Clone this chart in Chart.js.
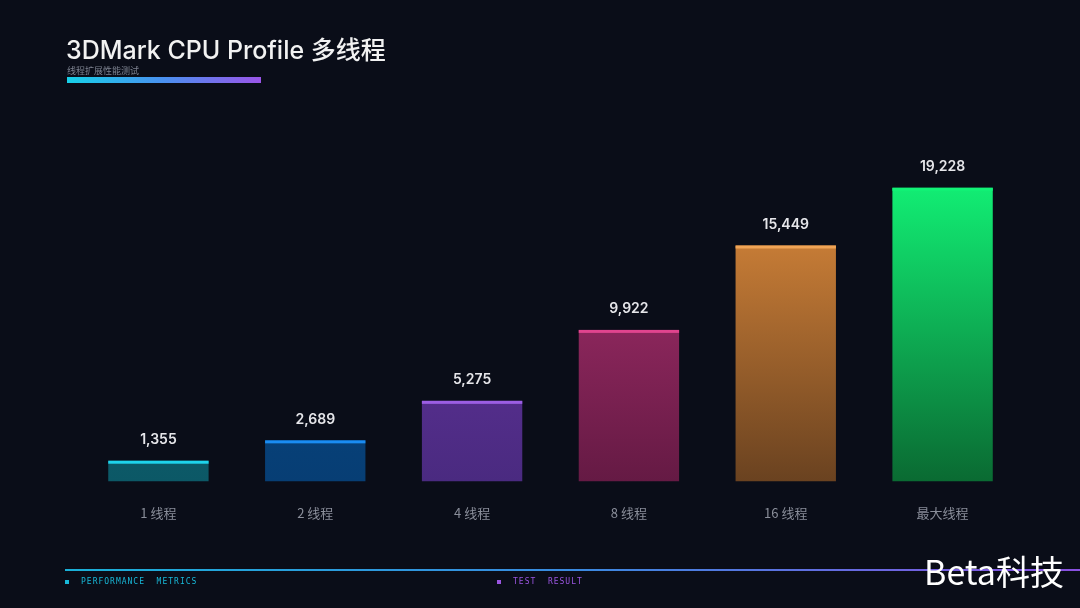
<!DOCTYPE html>
<html>
<head>
<meta charset="utf-8">
<script src="https://cdn.jsdelivr.net/npm/chart.js@4.4.1/dist/chart.umd.min.js"></script>
<style>
  html, body { margin: 0; padding: 0; background: #0a0d18; }
  #wrap { position: relative; width: 1080px; height: 608px; overflow: hidden; font-family: "Noto Sans CJK SC", "Noto Sans", sans-serif; }
  #chart { position: absolute; left: 0; top: 0; }
  .title { position: absolute; left: 66px; top: 30px; color: #f2f2f2; font-size: 25px; font-weight: 500; font-family: Inter, "Noto Sans CJK SC", sans-serif; }
  .title span { font-family: "Noto Sans CJK SC", sans-serif; }
  .sub { position: absolute; left: 67px; top: 64px; color: #7d8290; font-size: 9px; }
  .subbar { position: absolute; left: 67px; top: 77px; width: 194px; height: 6px; background: linear-gradient(90deg, #17d0e8, #4a90f0 50%, #9a55e8); }
  .footline { position: absolute; left: 65px; top: 569px; width: 1015px; height: 2px; background: linear-gradient(90deg, #1ab0d8, #3a8ae0 50%, #8a50e0); }
  .foot { position: absolute; top: 577px; font-family: "DejaVu Sans Mono", monospace; font-size: 8px; letter-spacing: 1px; }
  .foot i { display: inline-block; width: 4px; height: 4px; margin-right: 12px; vertical-align: middle; }
  .wm { position: absolute; right: 16px; top: 546px; color: #ffffff; font-size: 34px; font-family: "Noto Sans CJK SC", sans-serif; }
</style>
</head>
<body>
<div id="wrap">
  <canvas id="chart" width="1080" height="608"></canvas>
  <div class="title">3DMark CPU Profile <span>多线程</span></div>
  <div class="sub">线程扩展性能测试</div>
  <div class="subbar"></div>
  <div class="footline"></div>
  <div class="foot" style="left:65px;color:#18b8d8"><i style="background:#18b8d8"></i>PERFORMANCE&nbsp; METRICS</div>
  <div class="foot" style="left:497px;color:#9a55e0"><i style="background:#9a55e0"></i>TEST&nbsp; RESULT</div>
  <div class="wm">Beta科技</div>
</div>
<script>
// chart data
const categories = ['1 线程', '2 线程', '4 线程', '8 线程', '16 线程', '最大线程'];
const scores = [1355, 2689, 5275, 9922, 15449, 19228];
// gradient top / bottom and highlight edge per bar
const barTop = ['#0f6c7c', '#084a8c', '#6c37a6', '#b03272', '#e08c3c', '#12f276'];
const barBottom = ['#0c5866', '#073e74', '#4a2a80', '#651a44', '#6a4220', '#0a6a32'];
const barEdge = ['#1ed4ec', '#1a8cf2', '#9c5ee4', '#e0448e', '#f0a456', '#12f276'];

const valueLabels = {
  id: 'valueLabels',
  afterDatasetsDraw(chart) {
    const ctx = chart.ctx;
    const meta = chart.getDatasetMeta(0);
    meta.data.forEach(function (bar, i) {
      // bright top edge
      ctx.fillStyle = barEdge[i];
      ctx.fillRect(bar.x - bar.width / 2, bar.y, bar.width, 3);
      ctx.fillStyle = '#e6e6ea';
      ctx.font = '600 14px Inter, sans-serif';
      ctx.textAlign = 'center';
      ctx.textBaseline = 'middle';
      ctx.fillText(scores[i].toLocaleString('en-US'), bar.x, bar.y - 21);
    });
  }
};

const ctx = document.getElementById('chart').getContext('2d');
new Chart(ctx, {
  type: 'bar',
  data: {
    labels: categories,
    datasets: [{
      data: scores,
      backgroundColor: function (c) {
        const area = c.chart.chartArea;
        if (!area) return barTop[c.dataIndex];
        const el = c.chart.getDatasetMeta(0).data[c.dataIndex];
        const top = el && isFinite(el.y) ? el.y : area.top;
        const g = c.chart.ctx.createLinearGradient(0, top, 0, area.bottom);
        g.addColorStop(0, barTop[c.dataIndex]);
        g.addColorStop(1, barBottom[c.dataIndex]);
        return g;
      },
      borderWidth: 0,
      categoryPercentage: 1,
      barPercentage: 0.64
    }]
  },
  options: {
    responsive: false,
    animation: false,
    layout: { padding: { left: 80, right: 59, top: 176, bottom: 71 } },
    plugins: { legend: { display: false }, tooltip: { enabled: false } },
    scales: {
      x: {
        grid: { display: false },
        border: { display: false },
        ticks: { color: '#8a8e9a', font: { size: 13, family: '"Noto Sans CJK SC", sans-serif' }, padding: 16 }
      },
      y: {
        display: false,
        min: 0,
        max: 20000
      }
    }
  },
  plugins: [valueLabels]
});
</script>
</body>
</html>
